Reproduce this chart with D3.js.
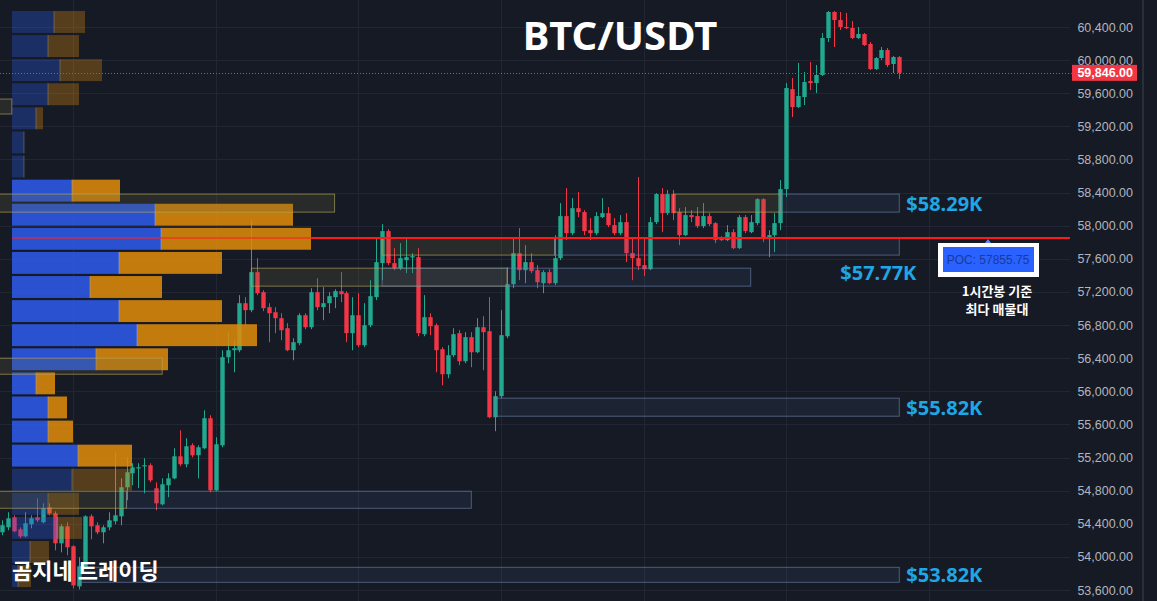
<!DOCTYPE html>
<html><head><meta charset="utf-8">
<script src="https://cdn.jsdelivr.net/npm/d3@7"></script>
<style>body{margin:0;background:#161a25;overflow:hidden}</style>
</head><body><svg id="c" width="1157" height="601"></svg>
<script>
// ---------- DATA (1h candles, BTC/USDT) ----------
const opens=[
54297,54357,54478,54333,54248,54394,54478,54418,54599,54526,
54164,54369,54128,53644,53874,54490,54382,54297,54357,54430,
54490,54841,55010,55070,55094,55107,54829,54635,54865,54949,
55215,55119,55348,55227,55312,55675,54804,55348,56412,56496,
56496,57064,56980,57439,57197,57016,56955,56883,56762,56496,
56581,56919,56774,57197,57016,57064,57137,57209,57185,56702,
56919,56557,56798,57137,57548,57935,57548,57487,57584,57620,
57620,56690,56895,56798,56508,56206,56436,56702,56363,56654,
56472,56774,56726,55687,55941,56665,57294,57669,57463,57560,
57463,57306,57439,57306,57608,58116,57910,58212,58164,57946,
57910,58104,58152,58007,57910,58043,57669,57608,57524,57475,
58043,58382,58152,58382,58164,57886,58128,58116,57995,58116,
58031,57850,57826,57922,57729,58104,57922,58031,58321,57838,
57886,58031,58442,59650,59433,59554,59747,59723,59820,60267,
60581,60484,60400,60388,60267,60315,60195,59892,60025,60122,
59953,60037];
const highs=[
54442,54539,54502,54357,54539,54502,54708,54647,54647,54551,
54394,54418,54140,53995,54502,54514,54418,54382,54539,55264,
54949,55203,55131,55131,55191,55131,54901,54949,55010,55312,
55529,55433,55372,55348,55771,55711,55445,56496,56714,56617,
57161,57137,58067,57608,57221,57064,57016,56943,56823,56641,
56943,56943,57245,57366,57258,57197,57233,57439,57209,57137,
57185,57064,57342,57850,58019,57959,57729,57789,57838,57669,
57729,57161,56943,56820,56533,56557,56762,56738,56714,56714,
56883,56907,57137,56001,56980,57500,57850,57971,57765,57669,
57524,57463,57475,57886,58273,58454,58333,58406,58188,58092,
58164,58333,58225,58092,58128,58152,57862,58587,57862,58104,
58394,58454,58430,58430,58212,58225,58188,58225,58273,58152,
58043,57874,58007,57959,58128,58128,58128,58333,58333,57946,
58152,58551,59723,59784,59965,59856,59977,59941,60327,60593,
60593,60581,60569,60472,60400,60327,60218,60037,60158,60146,
60049,60049];
const lows=[
54261,54321,54297,54224,54236,54345,54418,54406,54502,54079,
54055,54019,53620,53608,53862,54212,54273,54164,54321,54394,
54382,54684,54865,54829,54768,54901,54563,54623,54720,54937,
55094,55082,55203,54949,55300,54780,54792,55324,56339,56230,
56472,56798,56955,57161,56968,56593,56702,56617,56484,56375,
56557,56750,56750,56980,56859,56943,57004,57076,56593,56496,
56533,56533,56774,57101,57342,57524,57463,57463,57427,57427,
56665,56665,56678,56230,56073,56158,56412,56315,56339,56291,
56460,56255,55675,55518,55916,56641,57245,57342,57306,57427,
57245,57185,57294,57282,57584,57826,57886,58104,57886,57826,
57886,58092,57983,57886,57886,57560,57342,57463,57391,57463,
58019,57922,58128,58067,57765,57874,58043,57971,57971,57995,
57789,57814,57814,57717,57717,57910,57910,58007,57802,57620,
57681,57946,58346,59312,59421,59457,59638,59602,59808,60218,
60158,60364,60376,60255,60255,60170,59880,59880,60001,59916,
59844,59771];
const closes=[
54382,54466,54309,54248,54406,54466,54442,54587,54526,54164,
54369,54116,53656,53886,54490,54369,54297,54357,54442,54502,
54841,55022,55082,55082,55107,54925,54647,54877,54949,55215,
55119,55336,55227,55324,55675,54804,55360,56412,56496,56520,
57064,56980,57439,57185,57004,56943,56883,56738,56496,56593,
56919,56774,57197,57016,57064,57149,57209,57173,56702,56919,
56557,56798,57149,57560,57935,57548,57487,57608,57620,57632,
56702,56895,56786,56496,56206,56436,56690,56363,56654,56472,
56774,56714,55687,55941,56678,57294,57669,57463,57560,57451,
57318,57439,57306,57608,58116,57910,58212,58164,57935,57910,
58116,58152,58007,57910,58043,57669,57608,57512,57475,58043,
58382,58152,58382,58152,57886,58128,58104,57995,58116,58019,
57826,57826,57922,57729,58104,57935,58043,58321,57838,57886,
58031,58442,59663,59433,59566,59735,59723,59820,60267,60581,
60484,60400,60388,60267,60315,60182,59892,60025,60122,59941,
60037,59846];

// price axis ticks
const priceTicks=d3.range(53600,60401,400);
const lastPrice=59846;
const pocPrice=57855.75;

// volume profile (24 rows, top -> bottom), buy / sell volume
const profileHigh=60593, profileLow=53609;
const buyVol =[42,36,48,36,24,12,12,60,143,149,107,78,107,125,84,24,36,36,66,60,36,45,18,6];
const sellVol=[31,31,42,31,7,0,0,48,138,150,103,72,103,120,72,19,19,25,54,60,31,25,19,13];
const valueAreaRows=[7,18];

// zones: [top price, bottom price, start candle, end candle]
const supplyZones=[ // blue boxes
 [58382,58164,131,151],[57850,57645,93,151],[57487,57270,64,126],
 [55917,55699,83,151],[54793,54587,21,79],[53874,53693,13,151]];
const zoneLabels=["$58.29K","$57.77K",null,"$55.82K",null,"$53.82K"];
const oldZones=[ // olive boxes
 [58382,58164,-1,56],[59530,59349,-1,1.7],[57850,57645,64,93],
 [57487,57270,42,85],[56400,56206,-1,27],[54793,54587,-1,21],[58382,58164,113,131]];
const dayStarts=d3.range(12,170,24);

// ---------- DRAW ----------
const W=1157,H=601;
const svg=d3.select('#c');
const n=closes.length;
svg.append('rect').attr('width',W).attr('height',H).attr('fill','#161a25');
const y=d3.scaleLinear().domain([53600,60400]).range([590,27]);
const x=d3.scaleLinear().domain([0,n-1]).range([1.7,899.3]);
const plotRight=1070;

// grid
const g=svg.append('g');
g.selectAll('.hg').data(priceTicks).join('line')
 .attr('x1',0).attr('x2',plotRight).attr('y1',d=>Math.round(y(d))+0.5).attr('y2',d=>Math.round(y(d))+0.5)
 .attr('stroke','#222633').attr('stroke-width',1);
g.selectAll('.vg').data(dayStarts).join('line')
 .attr('x1',d=>Math.round(x(d))+0.5).attr('x2',d=>Math.round(x(d))+0.5).attr('y1',0).attr('y2',H)
 .attr('stroke','#222633').attr('stroke-width',1);

// candles
const up='#22a88f', dn='#f23645';
const bw=4.4;
const cg=svg.append('g');
const idx=d3.range(n);
cg.selectAll('.wick').data(idx).join('line')
 .attr('x1',i=>Math.round(x(i))+0.5).attr('x2',i=>Math.round(x(i))+0.5)
 .attr('y1',i=>y(highs[i])).attr('y2',i=>y(lows[i]))
 .attr('stroke',i=>closes[i]>=opens[i]?up:dn).attr('stroke-width',1);
cg.selectAll('.body').data(idx).join('rect')
 .attr('x',i=>Math.round(x(i))+0.5-bw/2).attr('width',bw)
 .attr('y',i=>y(Math.max(opens[i],closes[i])))
 .attr('height',i=>Math.max(1.2,Math.abs(y(opens[i])-y(closes[i]))))
 .attr('fill',i=>closes[i]>=opens[i]?up:dn);

// volume profile
const rows=buyVol.length;
const step=(profileHigh-profileLow)/rows;
const totals=buyVol.map((b,i)=>b+sellVol[i]);
const xv=d3.scaleLinear().domain([0,d3.max(totals)]).range([12,311]);
const pg=svg.append('g');
d3.range(rows).forEach(i=>{
 const top=y(profileHigh-i*step), bot=y(profileHigh-(i+1)*step);
 const inVA=i>=valueAreaRows[0]&&i<=valueAreaRows[1];
 const op=inVA?0.86:0.32;
 const h=bot-top-2.2;
 pg.append('rect').attr('x',xv(0)).attr('y',top).attr('width',xv(buyVol[i])-xv(0)).attr('height',h)
  .attr('fill','#2d5cec').attr('opacity',op);
 if(sellVol[i]>0) pg.append('rect').attr('x',xv(buyVol[i])).attr('y',top).attr('width',xv(totals[i])-xv(buyVol[i])).attr('height',h)
  .attr('fill','#e08c0a').attr('opacity',op);
 pg.append('line').attr('x1',xv(buyVol[i])).attr('x2',xv(buyVol[i])).attr('y1',top).attr('y2',top+h)
  .attr('stroke','#9fb0d0').attr('stroke-width',1).attr('opacity',inVA?0.5:0.35);
});

// zones
const zg=svg.append('g');
zg.selectAll('.oz').data(oldZones).join('rect')
 .attr('x',d=>x(d[2])).attr('width',d=>x(d[3])-x(d[2]))
 .attr('y',d=>y(d[0])).attr('height',d=>y(d[1])-y(d[0]))
 .attr('fill','rgba(110,105,70,0.22)').attr('stroke','rgba(185,170,90,0.62)').attr('stroke-width',1);
zg.selectAll('.sz').data(supplyZones).join('rect')
 .attr('x',d=>x(d[2])).attr('width',d=>x(d[3])-x(d[2]))
 .attr('y',d=>y(d[0])).attr('height',d=>y(d[1])-y(d[0]))
 .attr('fill','rgba(70,100,150,0.14)').attr('stroke','rgba(110,135,175,0.6)').attr('stroke-width',1);

// POC line
const py=Math.round(y(pocPrice));
svg.append('line').attr('x1',xv(d3.max(totals))).attr('x2',plotRight).attr('y1',py).attr('y2',py)
 .attr('stroke','#ff1a1a').attr('stroke-width',2);
svg.append('line').attr('x1',xv(0)).attr('x2',xv(d3.max(totals))).attr('y1',py).attr('y2',py)
 .attr('stroke','#ff2020').attr('stroke-width',2).attr('opacity',0.55);

// last price dotted line
const ly=Math.round(y(lastPrice))+0.5;
svg.append('line').attr('x1',0).attr('x2',1072).attr('y1',ly).attr('y2',ly)
 .attr('stroke','#f23645').attr('stroke-width',1).attr('stroke-dasharray','1,2');

// zone labels
supplyZones.forEach((z,i)=>{
 if(!zoneLabels[i]) return;
 const mid=(y(z[0])+y(z[1]))/2;
 const below=i===1;
 svg.append('text').attr('x',below?x(z[3])-59:x(z[3])+7).attr('y',below?mid+33:mid+7.5)
  .attr('fill','#1fa6e6').attr('font-family','Noto Sans, sans-serif').attr('font-weight',700)
  .attr('font-size',20).text(zoneLabels[i]);
});

// POC label
const bx=988;
svg.append('rect').attr('x',bx-50).attr('y',py+5).attr('width',101).attr('height',34).attr('fill','#ffffff');
svg.append('rect').attr('x',bx-45).attr('y',py+9).attr('width',91).attr('height',25).attr('fill','#2962ff');
svg.append('path').attr('d',`M${bx-3},${py+5}L${bx},${py+1}L${bx+3},${py+5}Z`).attr('fill','#5b8cff');
svg.append('text').attr('x',bx).attr('y',py+26).attr('text-anchor','middle').attr('fill','#1b3a9a')
 .attr('font-family','Liberation Sans, Arial, sans-serif').attr('font-size',12).text('POC: '+d3.format('.2f')(pocPrice));
svg.append('text').attr('x',bx+9).attr('y',py+58).attr('text-anchor','middle').attr('fill','#ffffff')
 .attr('font-family','Noto Sans CJK KR, sans-serif').attr('font-weight',700).attr('font-size',13).text('1시간봉 기준');
svg.append('text').attr('x',bx+9).attr('y',py+76).attr('text-anchor','middle').attr('fill','#ffffff')
 .attr('font-family','Noto Sans CJK KR, sans-serif').attr('font-weight',700).attr('font-size',13).text('최다 매물대');

// price axis
const ag=svg.append('g');
ag.selectAll('text').data(priceTicks).join('text')
 .attr('x',1133).attr('y',d=>y(d)+4.5).attr('text-anchor','end').attr('fill','#b2b5be')
 .attr('font-family','Liberation Sans, Arial, sans-serif').attr('font-size',12.5).text(d3.format(',.2f'));
svg.append('rect').attr('x',1072).attr('y',y(lastPrice)-8).attr('width',65).attr('height',16).attr('fill','#f23645');
svg.append('text').attr('x',1133).attr('y',y(lastPrice)+4.5).attr('text-anchor','end').attr('fill','#ffffff')
 .attr('font-family','Liberation Sans, Arial, sans-serif').attr('font-size',12.5).attr('font-weight',700).text(d3.format(',.2f')(lastPrice));
svg.append('line').attr('x1',1143).attr('x2',1143).attr('y1',0).attr('y2',H).attr('stroke','#2a2e39').attr('stroke-width',2);

// titles
svg.append('text').attr('x',620).attr('y',50).attr('text-anchor','middle').attr('fill','#ffffff')
 .attr('font-family','Noto Sans, sans-serif').attr('font-weight',700).attr('font-size',40).text('BTC/USDT');
svg.append('text').attr('x',12).attr('y',579).attr('fill','#ffffff')
 .attr('font-family','Noto Sans CJK KR, sans-serif').attr('font-weight',700).attr('font-size',22).text('곰지네 트레이딩');
</script></body></html>
